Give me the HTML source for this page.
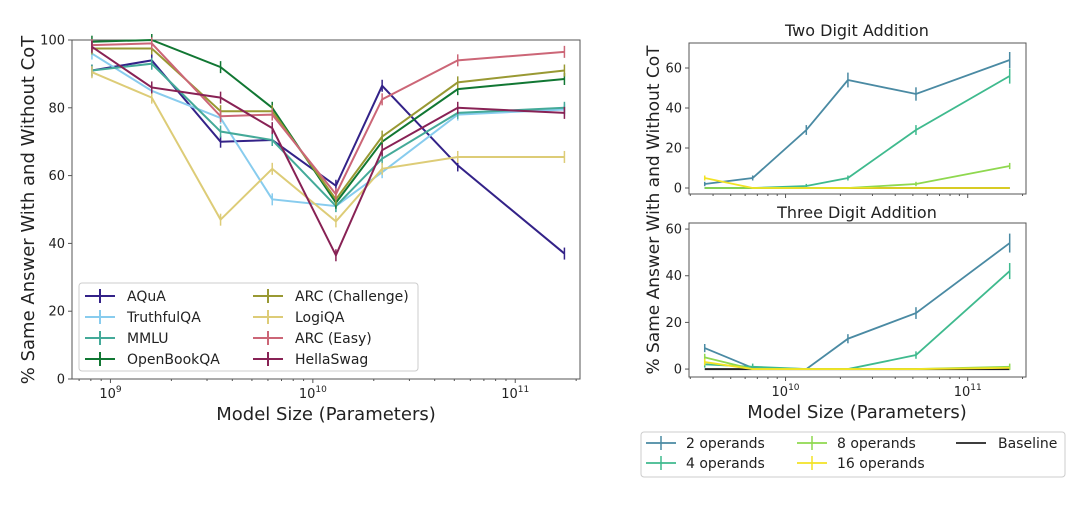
<!DOCTYPE html>
<html><head><meta charset="utf-8"><style>
body{margin:0;background:#fff;font-family:"Liberation Sans","DejaVu Sans",sans-serif}
svg text{font-family:"DejaVu Sans","Liberation Sans",sans-serif;fill:#222}
</style></head><body>
<svg id="c" width="1080" height="502" viewBox="0 0 1080 502"></svg>
<script>
// ---- Left chart data ----
const leftSizes=[0.81e9,1.6e9,3.5e9,6.3e9,13e9,22e9,52e9,175e9];
const leftNames=["AQuA","TruthfulQA","MMLU","OpenBookQA","ARC (Challenge)","LogiQA","ARC (Easy)","HellaSwag"];
const leftColors=["#332288","#88ccee","#44aa99","#117733","#999933","#ddcc77","#cc6677","#882255"];
const aqua=[91,94,70,70.5,57,86.5,63,37];
const truthfulqa=[96,85,77,53,51,61,78,79.5];
const mmlu=[91,93,73,70.5,51,65,78.5,80];
const openbookqa=[99.5,100,92,80,52,70,85.5,88.5];
const arcChallenge=[97.5,97.5,79,79,53,71.5,87.5,91];
const logiqa=[90.5,83,47,62,46.5,62,65.5,65.5];
const arcEasy=[98.5,99,77.5,78,54.5,82.5,94,96.5];
const hellaswag=[98,86,83,74,36.5,67.5,80,78.5];
const leftSeries=[aqua,truthfulqa,mmlu,openbookqa,arcChallenge,logiqa,arcEasy,hellaswag];
const leftYTicks=[0,20,40,60,80,100];
// ---- Right chart data ----
const rightSizes=[3.6e9,6.6e9,13e9,22e9,52e9,170e9];
const rightNames=["2 operands","4 operands","8 operands","16 operands"];
const rightColors=["#4a8aa3","#3fba8e","#8fd84f","#f2e324"];
const twoDig2=[2,5,29,54,47,64];
const twoDig4=[0,0,1,5,29,56];
const twoDig8=[0,0,0,0,2,11];
const twoDig16=[5,0,0,0,0,0];
const threeDig2=[9,0.5,0,13,24,54];
const threeDig4=[2,1,0,0,6,42];
const threeDig8=[5,0,0,0,0,1];
const threeDig16=[3,0,0,0,0,0.5];
const baseline=[0,0,0,0,0,0];
const rightYTicks=[0,20,40,60];

const NS="http://www.w3.org/2000/svg";
const svg=document.getElementById('c');
function mk(tag,attrs,parent){const e=document.createElementNS(NS,tag);for(const k in attrs)e.setAttribute(k,attrs[k]);(parent||svg).appendChild(e);return e;}
function txt(s,attrs,parent){const t=mk('text',attrs,parent);t.textContent=s;return t;}
function sup(base,exp,x,y,name){const t=mk('text',{x:x,y:y,'text-anchor':'middle','font-size':13});const a=document.createElementNS(NS,'tspan');a.textContent=base;t.appendChild(a);const b=document.createElementNS(NS,'tspan');b.setAttribute('dy','-6');b.setAttribute('font-size','9');b.textContent=exp;t.appendChild(b);}

function axes(cfg){
  const X=v=>cfg.x0+(Math.log10(v)-cfg.lx0)/(cfg.lx1-cfg.lx0)*(cfg.x1-cfg.x0);
  const Y=v=>cfg.y1-(v-cfg.v0)/(cfg.v1-cfg.v0)*(cfg.y1-cfg.y0);
  return {X,Y};
}
function drawFrame(cfg,name,yTicks,Y,X){
  const g=mk('g',{});
  
  
  mk('rect',{x:cfg.x0,y:cfg.y0,width:cfg.x1-cfg.x0,height:cfg.y1-cfg.y0,fill:'none',stroke:'#555','stroke-width':1},g);
  yTicks.forEach(v=>{const y=Y(v);mk('line',{x1:cfg.x0-4,x2:cfg.x0,y1:y,y2:y,stroke:'#555'},g);
    const t=txt(String(v),{x:cfg.x0-7,y:y+4.5,'text-anchor':'end','font-size':13},g);
    });
  for(let d=Math.floor(cfg.lx0);d<=Math.ceil(cfg.lx1);d++){
    for(let m=1;m<10;m++){const v=m*Math.pow(10,d);const lv=Math.log10(v);if(lv<cfg.lx0||lv>cfg.lx1)continue;const x=X(v);
      mk('line',{x1:x,x2:x,y1:cfg.y1,y2:cfg.y1+(m==1?4:2),stroke:'#555'},g);}
  }
  return g;
}
function series(X,Y,sizes,vals,color,err,name,w){
  const g=mk('g',{});
  
  
  const pts=sizes.map((s,i)=>X(s)+','+Y(vals[i])).join(' ');
  mk('polyline',{points:pts,fill:'none',stroke:color,'stroke-width':w||2},g);
  sizes.forEach((s,i)=>{const x=X(s),y=Y(vals[i]);const e=err(vals[i]);
    if(e>0)mk('line',{x1:x,x2:x,y1:y-e,y2:y+e,stroke:color,'stroke-width':1.5},g);});
}

// Left chart
const L={x0:72,x1:580,y0:40,y1:379,lx0:8.81,lx1:11.32,v0:0,v1:100};
const LA=axes(L);
drawFrame(L,'left-axes',leftYTicks,LA.Y,LA.X);
[9,10,11].forEach(d=>sup('10',String(d),LA.X(Math.pow(10,d)),398,'x-tick-label'));
leftSeries.forEach((s,i)=>series(LA.X,LA.Y,leftSizes,s,leftColors[i],v=>6,'series-'+leftNames[i].toLowerCase().replace(/[^a-z]+/g,'-'),2));
let tt=txt('% Same Answer With and Without CoT',{x:0,y:0,'text-anchor':'middle','font-size':18,transform:'translate(34,210) rotate(-90)'});

tt=txt('Model Size (Parameters)',{x:326,y:420,'text-anchor':'middle','font-size':18});

// Left legend
const lg=mk('g',{});


mk('rect',{x:79,y:283,width:339,height:88,rx:3,fill:'#fff','fill-opacity':0.85,stroke:'#ccc'},lg);
leftNames.forEach((n,i)=>{const col=i<4?0:1,row=i%4;const x=85+col*168,y=296+row*21;
  const e=mk('g',{},lg);
  
  
  mk('line',{x1:x,x2:x+30,y1:y,y2:y,stroke:leftColors[i],'stroke-width':2},e);
  mk('line',{x1:x+15,x2:x+15,y1:y-7,y2:y+7,stroke:leftColors[i],'stroke-width':2},e);
  txt(n,{x:x+42,y:y+5,'font-size':14},e);});

// Right charts
const R1={x0:689,x1:1026,y0:43,y1:194,lx0:9.47,lx1:11.32,v0:-3,v1:72.5};
const R2={x0:689,x1:1026,y0:223,y1:377,lx0:9.47,lx1:11.32,v0:-3.4,v1:62.6};
const A1=axes(R1),A2=axes(R2);
drawFrame(R1,'two-digit-axes',rightYTicks,A1.Y,A1.X);
drawFrame(R2,'three-digit-axes',rightYTicks,A2.Y,A2.X);
[10,11].forEach(d=>sup('10',String(d),A2.X(Math.pow(10,d)),396,'x-tick-label'));
tt=txt('Two Digit Addition',{x:857,y:36,'text-anchor':'middle','font-size':16});

tt=txt('Three Digit Addition',{x:857,y:218,'text-anchor':'middle','font-size':16});

tt=txt('% Same Answer With and Without CoT',{x:0,y:0,'text-anchor':'middle','font-size':17,transform:'translate(659,210) rotate(-90)'});

tt=txt('Model Size (Parameters)',{x:857,y:418,'text-anchor':'middle','font-size':18});

const topSeries=[twoDig2,twoDig4,twoDig8,twoDig16],botSeries=[threeDig2,threeDig4,threeDig8,threeDig16];
series(A1.X,A1.Y,rightSizes,baseline,'#222',v=>0,'two-digit-baseline',2);
series(A2.X,A2.Y,rightSizes,baseline,'#222',v=>0,'three-digit-baseline',2);
topSeries.forEach((s,i)=>series(A1.X,A1.Y,rightSizes,s,rightColors[i],v=>v>0.5?Math.min(8,2+v*0.1):0,'two-digit-'+rightNames[i].replace(' ','-'),1.8));
botSeries.forEach((s,i)=>series(A2.X,A2.Y,rightSizes,s,rightColors[i],v=>v>0.5?Math.min(10,3+v*0.12):0,'three-digit-'+rightNames[i].replace(' ','-'),1.8));
// Right legend
const rg=mk('g',{});


mk('rect',{x:641,y:432,width:424,height:45,rx:3,fill:'#fff',stroke:'#ccc'},rg);
const rl=rightNames.map((n,i)=>[n,rightColors[i]]).concat([['Baseline','#222']]);
const pos=[[646,443],[646,463],[797,443],[797,463],[956,443]];
rl.forEach((r,i)=>{const x=pos[i][0],y=pos[i][1];
  const e=mk('g',{},rg);
  
  
  mk('line',{x1:x,x2:x+30,y1:y,y2:y,stroke:r[1],'stroke-width':1.8},e);
  if(i<4)mk('line',{x1:x+15,x2:x+15,y1:y-7,y2:y+7,stroke:r[1],'stroke-width':1.5},e);
  txt(r[0],{x:x+(i==4?42:40),y:y+5,'font-size':14},e);});
</script>
</body></html>
